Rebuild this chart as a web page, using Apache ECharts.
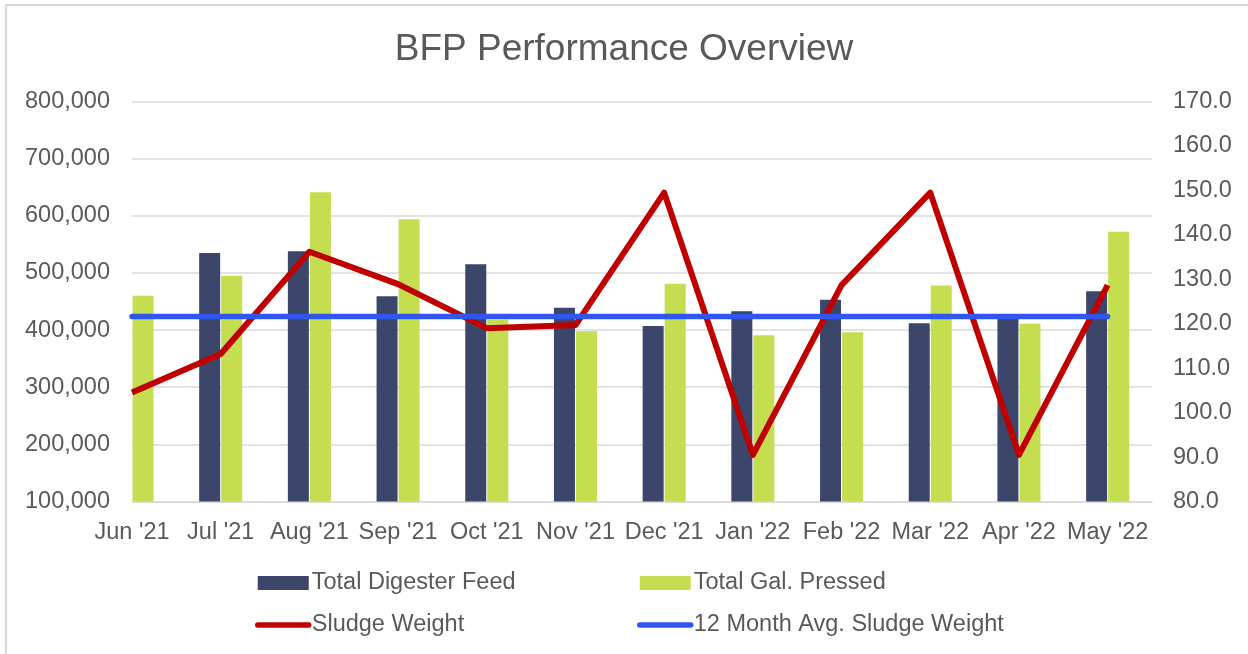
<!DOCTYPE html>
<html>
<head>
<meta charset="utf-8">
<title>BFP Performance Overview</title>
<script src="https://cdn.jsdelivr.net/npm/echarts@6/dist/echarts.min.js"></script>
<style>
  html, body { margin: 0; padding: 0; background: #fff; }
  #chart { width: 1248px; height: 654px; }
</style>
</head>
<body>
<div id="chart"></div>
<script>
// months on the category axis
const months = ["Jun '21", "Jul '21", "Aug '21", "Sep '21", "Oct '21", "Nov '21",
  "Dec '21", "Jan '22", "Feb '22", "Mar '22", "Apr '22", "May '22"]

// bars (left axis, gallons)
const digesterFeed = [null, 535000, 538000, 459000, 515000, 439000, 407000, 433000, 453000, 412000, 420000, 468000]
const galPressed = [460000, 495000, 641000, 594000, 418000, 398000, 481000, 391000, 396000, 478000, 411000, 572000]

// lines (right axis)
const sludgeWeight = [104.5, 113.2, 136.2, 128.9, 119.0, 119.7, 149.5, 90.5, 128.7, 149.5, 90.5, 128.7]
const avgSludgeWeight = [121.6, 121.6, 121.6, 121.6, 121.6, 121.6, 121.6, 121.6, 121.6, 121.6, 121.6, 121.6]

// axis ticks
const leftTicks = { min: 100000, max: 800000, step: 100000 }
const rightTicks = { min: 80, max: 170, step: 10 }

const FONT = '"Liberation Sans", Arial, sans-serif'
const TXT = '#595959'
const GRID_LINE = '#d9d9d9'
const RED = '#c00000'
const BLUE = '#3056f0'

const pairs = arr => arr.map((v, i) => [i, v])

const chart = echarts.init(document.getElementById('chart'))

// shared legend look, one vertical legend per column
const legendBase = {
  orient: 'vertical',
  top: 571,
  padding: 0,
  itemWidth: 51,
  itemHeight: 14,
  itemGap: 18,
  textStyle: { color: TXT, fontSize: 23.5, fontFamily: FONT, padding: [0, 0, 0, -2] }
}

const option = {
  backgroundColor: '#fff',
  animation: false,
  textStyle: { fontFamily: FONT },
  title: {
    text: 'BFP Performance Overview',
    left: 'center',
    top: 26,
    textStyle: { color: TXT, fontSize: 37, fontWeight: 'normal', fontFamily: FONT }
  },
  // outer chart frame (only top/left visible in the window)
  graphic: [{
    type: 'rect',
    silent: true,
    shape: { x: 6, y: 5, width: 1300, height: 700 },
    style: { fill: null, stroke: GRID_LINE, lineWidth: 2 }
  }],
  legend: [
    Object.assign({}, legendBase, {
      left: 255,
      data: [
        { name: 'Total Digester Feed', icon: 'rect' },
        { name: 'Sludge Weight', itemStyle: { opacity: 0 }, lineStyle: { width: 5.5, cap: 'round' } }
      ]
    }),
    Object.assign({}, legendBase, {
      left: 637,
      data: [
        { name: 'Total Gal. Pressed', icon: 'rect' },
        { name: '12 Month Avg. Sludge Weight', itemStyle: { opacity: 0 }, lineStyle: { width: 5.5, cap: 'round' } }
      ]
    })
  ],
  grid: {
    left: 132,
    right: 96,
    top: 101.5,
    bottom: 152.5
  },
  xAxis: {
    type: 'value',
    min: 0,
    max: 11.5,
    interval: 1,
    axisLine: { show: true, lineStyle: { color: GRID_LINE, width: 1.5 } },
    axisTick: { show: false },
    splitLine: { show: false },
    axisLabel: {
      color: TXT,
      fontSize: 23.5,
      fontFamily: FONT,
      margin: 19,
      showMaxLabel: false,
      formatter: v => (Number.isInteger(v) && months[v]) ? months[v] : ''
    }
  },
  yAxis: [
    {
      type: 'value',
      min: leftTicks.min,
      max: leftTicks.max,
      interval: leftTicks.step,
      axisLine: { show: false },
      axisTick: { show: false },
      splitLine: { lineStyle: { color: GRID_LINE, width: 1.5 } },
      axisLabel: {
        color: TXT,
        fontSize: 23.5,
        fontFamily: FONT,
        margin: 22,
        formatter: v => v.toLocaleString('en-US')
      }
    },
    {
      type: 'value',
      min: rightTicks.min,
      max: rightTicks.max,
      interval: rightTicks.step,
      axisLine: { show: false },
      axisTick: { show: false },
      splitLine: { show: false },
      axisLabel: {
        color: TXT,
        fontSize: 23.5,
        fontFamily: FONT,
        margin: 21,
        formatter: v => v.toFixed(1)
      }
    }
  ],
  series: [
    {
      name: 'Total Digester Feed',
      type: 'bar',
      yAxisIndex: 0,
      data: pairs(digesterFeed),
      barWidth: 21,
      barGap: '5%',
      itemStyle: { color: '#3c466b' }
    },
    {
      name: 'Total Gal. Pressed',
      type: 'bar',
      yAxisIndex: 0,
      data: pairs(galPressed),
      barWidth: 21,
      barGap: '5%',
      itemStyle: { color: '#c4de50' }
    },
    {
      name: 'Sludge Weight',
      type: 'line',
      yAxisIndex: 1,
      data: pairs(sludgeWeight),
      symbol: 'none',
      lineStyle: { color: RED, width: 6, join: 'round' },
      itemStyle: { color: RED }
    },
    {
      name: '12 Month Avg. Sludge Weight',
      type: 'line',
      yAxisIndex: 1,
      data: pairs(avgSludgeWeight),
      symbol: 'none',
      lineStyle: { color: BLUE, width: 5.5, cap: 'round' },
      itemStyle: { color: BLUE }
    }
  ]
}

chart.setOption(option)
window.addEventListener('resize', () => chart.resize())
</script>
</body>
</html>
